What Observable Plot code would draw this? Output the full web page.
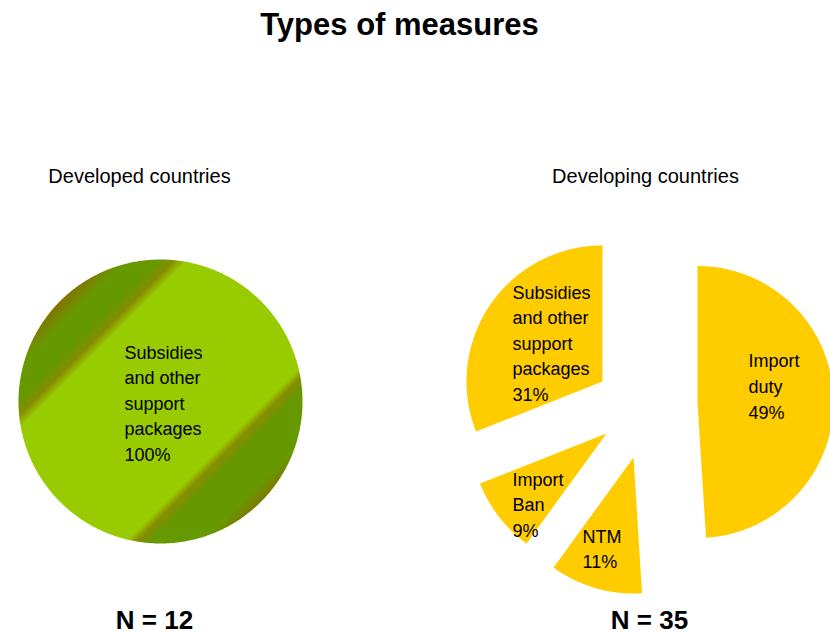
<!DOCTYPE html>
<html><head><meta charset="utf-8">
<script src="https://cdn.jsdelivr.net/npm/d3@7"></script>
<script src="https://cdn.jsdelivr.net/npm/@observablehq/plot@0.6"></script>
<style>html,body{margin:0;padding:0;background:#fff;} svg{display:block;}</style>
</head><body><div id="chart"></div>
<script>
// ---- data ----
const chartTitle = "Types of measures";
const panelTitles = ["Developed countries", "Developing countries"];
const panelN = [12, 35];
const developedCategories = ["Subsidies and other support packages"];
const developedShares = [100];
const developingCategories = ["Import duty", "NTM", "Import Ban", "Subsidies and other support packages"];
const developingShares = [49, 11, 9, 31];

// ---- layout (positions / styles) ----
const W = 830, H = 633;
const FONT = "'Liberation Sans', Arial, Helvetica, sans-serif";
const labelSize = 18, labelMaxWidth = 84;
const layout = [
  {cx: 160, cy: 401, r: 142, titleX: 139, nX: 154, fill: "url(#greenBands)",
   explode: {"Subsidies and other support packages": [0, 0]},
   label: {"Subsidies and other support packages": [-36, -61]}},
  {cx: 650, cy: 400, r: 136, titleX: 645, nX: 649, fill: "#FFCC00",
   explode: {"Import duty": [47, 1.5], "NTM": [-17, 57], "Import Ban": [-44, 33], "Subsidies and other support packages": [-48, -19]},
   label: {"Import duty": [51, -52.7], "NTM": [-51, 67], "Import Ban": [-94, 34], "Subsidies and other support packages": [-90, -101]}}
];
const headerY = {title: 34, panel: 182, n: 628, titleX: 399};

// word wrapping by measured width
const ctx = document.createElement("canvas").getContext("2d");
ctx.font = `${labelSize}px ${FONT}`;
function wrap(text) {
  const words = text.split(" "), lines = [];
  let cur = "";
  for (const w of words) {
    const test = cur ? cur + " " + w : w;
    if (cur && ctx.measureText(test).width > labelMaxWidth) { lines.push(cur); cur = w; }
    else cur = test;
  }
  if (cur) lines.push(cur);
  return lines.join("\n");
}

const panels = [[developedCategories, developedShares], [developingCategories, developingShares]];
const outline = [], labels = [];
panels.forEach(([cats, vals], p) => {
  const L = layout[p];
  const arcs = d3.pie().sort(null).value(d => d.v)(cats.map((c, i) => ({c, v: vals[i]})));
  arcs.forEach((a, i) => {
    const [ox, oy] = L.explode[a.data.c];
    const ax = L.cx + ox, ay = L.cy + oy;
    const id = p + "-" + i;
    const span = a.endAngle - a.startAngle;
    const full = span >= 2 * Math.PI - 1e-9;
    if (!full) outline.push({id, panel: p, x: ax, y: ay});
    const n = Math.max(2, Math.ceil(span / (Math.PI / 360)));
    for (let k = 0; k <= n; k++) {
      const t = a.startAngle + span * k / n;
      outline.push({id, panel: p, x: ax + L.r * Math.sin(t), y: ay - L.r * Math.cos(t)});
    }
    const [lx, ly] = L.label[a.data.c];
    labels.push({panel: p, x: ax + lx, y: ay + ly, text: wrap(a.data.c) + "\n" + d3.format(".0f")(a.data.v) + "%"});
  });
});

const headers = panelTitles.map((t, i) => ({x: layout[i].titleX, y: headerY.panel, text: t}));
const counts = panelN.map((n, i) => ({x: layout[i].nX, y: headerY.n, text: "N = " + n}));
const title = [{x: headerY.titleX, y: headerY.title, text: chartTitle}];

const plot = Plot.plot({
  width: W, height: H, margin: 0,
  x: {domain: [0, W], range: [0, W], axis: null},
  y: {domain: [0, H], range: [0, H], axis: null},
  style: {fontFamily: FONT, background: "#fff", color: "#000"},
  marks: [
    Plot.line(outline.filter(d => d.panel === 0), {x: "x", y: "y", z: "id", curve: "linear-closed", fill: layout[0].fill, stroke: "none"}),
    Plot.line(outline.filter(d => d.panel === 1), {x: "x", y: "y", z: "id", curve: "linear-closed", fill: layout[1].fill, stroke: "none"}),
    Plot.text(labels, {x: "x", y: "y", text: "text", textAnchor: "start", lineAnchor: "top", lineHeight: 1.42, fontSize: labelSize, fill: "#000"}),
    Plot.text(title, {x: "x", y: "y", text: "text", lineAnchor: "bottom", fontSize: 31, fontWeight: "bold", fill: "#000"}),
    Plot.text(headers, {x: "x", y: "y", text: "text", lineAnchor: "bottom", fontSize: 20, fill: "#000"}),
    Plot.text(counts, {x: "x", y: "y", text: "text", lineAnchor: "bottom", fontSize: 26, fontWeight: "bold", fill: "#000"})
  ]
});

// gradient definition for the banded green fill
const defs = d3.select(plot).insert("defs", ":first-child");
const g = defs.append("linearGradient").attr("id", "greenBands")
  .attr("x1", 0).attr("y1", 0).attr("x2", 1).attr("y2", 1);
[[0, "#7a6a00"], [0.146, "#857200"], [0.19, "#669900"], [0.25, "#669900"], [0.275, "#868c00"], [0.30, "#99CC00"],
 [0.685, "#99CC00"], [0.705, "#868c00"], [0.73, "#669900"], [0.82, "#669900"], [0.86, "#857200"], [1, "#7a6a00"]]
  .forEach(([o, c]) => g.append("stop").attr("offset", o).attr("stop-color", c));

document.getElementById("chart").appendChild(plot);
</script>
</body></html>
